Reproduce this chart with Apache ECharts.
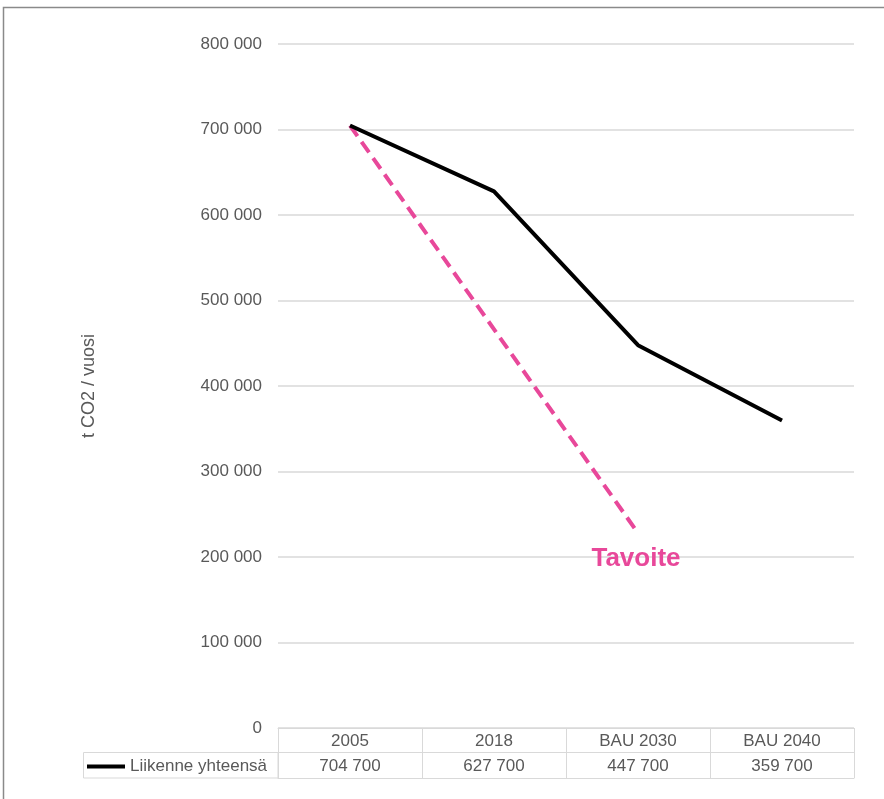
<!DOCTYPE html>
<html><head><meta charset="utf-8">
<script src="https://cdn.jsdelivr.net/npm/echarts@6/dist/echarts.min.js"></script>
<style>html,body{margin:0;padding:0;background:#fff}#c{width:884px;height:799px}</style>
</head><body><div id="c"></div>
<script>
const categories = ['2005', '2018', 'BAU 2030', 'BAU 2040'];
const totalValues = [704700, 627700, 447700, 359700];
const targetValues = [704700, '-', 228000, '-'];
const seriesName = 'Liikenne yhteensä';
const targetLabel = 'Tavoite';
const yTicks = [0, 100000, 200000, 300000, 400000, 500000, 600000, 700000, 800000];
const yAxisName = 't CO2 / vuosi';

const fmt = v => String(v).replace(/\B(?=(\d{3})+(?!\d))/g, ' ');
const txt = '#595959', grid = '#d9d9d9', pink = '#E8489A';
const chart = echarts.init(document.getElementById('c'));
chart.setOption({
  animation: false,
  textStyle: {fontFamily: 'Liberation Sans, Arial, sans-serif'},
  graphic: [
    {type: 'rect', shape: {x: 3.5, y: 7.5, width: 1000, height: 1000}, style: {fill: 'none', stroke: '#8a8a8a', lineWidth: 1.5}, silent: true},
    {type: 'rect', shape: {x: 83.5, y: 752.5, width: 194.5, height: 25.5}, style: {fill: 'none', stroke: grid, lineWidth: 1}, silent: true}
  ],
  legend: {
    data: [{name: seriesName, icon: 'rect'}],
    left: 87, top: 758, itemWidth: 38, itemHeight: 4, itemGap: 0, padding: 0,
    textStyle: {color: txt, fontSize: 17}
  },
  grid: {left: 278, right: 30, top: 44, bottom: 71},
  xAxis: [
    {type: 'category', data: categories, position: 'bottom',
     axisLine: {lineStyle: {color: grid, width: 1}},
     axisTick: {show: true, length: 50, interval: 0, lineStyle: {color: grid, width: 1}},
     axisLabel: {color: txt, fontSize: 17, margin: 5}},
    {type: 'category', data: categories, position: 'bottom', offset: 24,
     axisLine: {lineStyle: {color: grid, width: 1}}, axisTick: {show: false},
     axisLabel: {color: txt, fontSize: 17, margin: 6, formatter: (v, i) => fmt(totalValues[i])}},
    {type: 'category', data: categories, position: 'bottom', offset: 50,
     axisLine: {lineStyle: {color: grid, width: 1}}, axisTick: {show: false}, axisLabel: {show: false}}
  ],
  yAxis: {
    type: 'value', min: yTicks[0], max: yTicks[yTicks.length - 1], interval: 100000,
    name: yAxisName, nameLocation: 'middle', nameGap: 180, nameRotate: 90,
    nameTextStyle: {color: txt, fontSize: 18},
    axisLine: {show: false}, axisTick: {show: false},
    axisLabel: {color: txt, fontSize: 17, margin: 16, formatter: v => fmt(v)},
    splitLine: {lineStyle: {color: grid, width: 1.5}}
  },
  series: [
    {name: seriesName, type: 'line', data: totalValues, symbol: 'none',
     lineStyle: {color: '#000', width: 4}, itemStyle: {color: '#000'}, z: 3},
    {name: targetLabel, type: 'line', data: targetValues.map((v, i) => i === 2 ? {value: v, label: {show: true, formatter: targetLabel, position: 'bottom', distance: 13, offset: [-2, 0], color: pink, fontSize: 26, fontWeight: 'bold'}} : v),
     connectNulls: true, symbol: 'circle', symbolSize: 0, showSymbol: true,
     lineStyle: {color: pink, width: 4, type: [13, 7]}, itemStyle: {color: pink}, z: 2}
  ]
});
</script></body></html>
